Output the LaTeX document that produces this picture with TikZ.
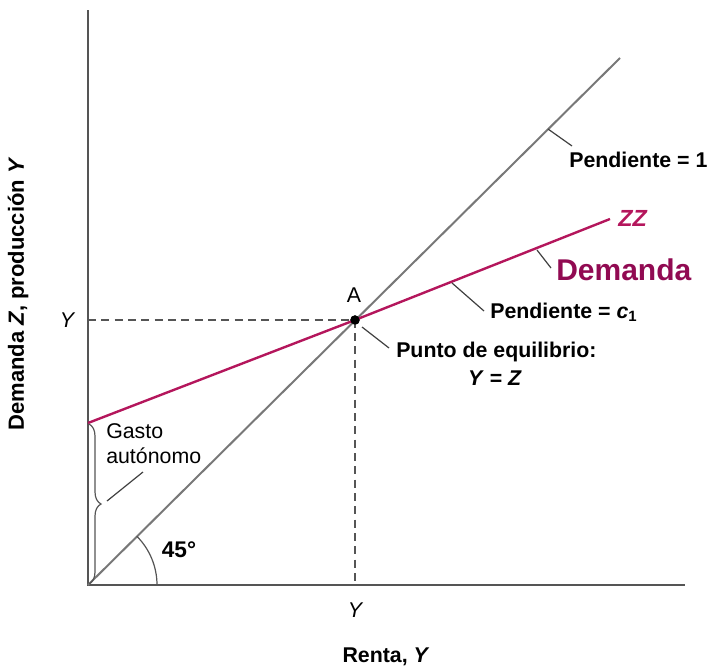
\documentclass[tikz,border=0pt]{standalone}
\usepackage{fontspec}
\setmainfont{Liberation Sans}
\usetikzlibrary{decorations.pathreplacing}
\definecolor{zzcol}{RGB}{180,22,92}
\definecolor{demcol}{RGB}{145,10,82}
\definecolor{axcol}{RGB}{85,85,85}
\definecolor{l45col}{RGB}{120,120,120}
\tikzset{
  axisline/.style={draw=axcol,line width=1.1pt},
  line45/.style={draw=l45col,line width=1.5pt},
  zzline/.style={draw=zzcol,line width=1.8pt},
  guide/.style={draw=axcol,line width=0.9pt,dash pattern=on 6pt off 4pt},
  tick/.style={draw=black!75,line width=0.9pt},
  lbl/.style={font=\fontsize{16}{19}\selectfont\bfseries,inner sep=0pt},
  plain/.style={font=\fontsize{16}{19}\selectfont,inner sep=0pt},
}
\begin{document}
\begin{tikzpicture}[x=0.75pt,y=-0.75pt]
\useasboundingbox (0,0) rectangle (707,668);
\coordinate (O) at (88,585);
\coordinate (ytop) at (88,10);
\coordinate (xend) at (685,585);
\coordinate (L45end) at (620,58);
\coordinate (Z0) at (88,423);
\coordinate (Zend) at (610,219);
\coordinate (Yl) at (88,320);
\coordinate (Yb) at (355,585);
\node[circle,fill=black,inner sep=0pt,minimum size=7pt] (A) at (355,320) {};
% guides
\draw[guide] (Yl) -- (A.center) -- (Yb);
% axes
\draw[axisline] (ytop) -- (O) -- (xend);
% lines
\draw[line45] (O) -- (L45end);
\draw[zzline] (Z0) -- (A.center) -- (Zend);
\node[circle,fill=black,inner sep=0pt,minimum size=7pt] at (A) {};
% 45 arc
\draw[axisline,line width=0.9pt] (157,585) arc[start angle=0,end angle=-45,radius=69];
\node[lbl,font=\fontsize{17}{20}\selectfont\bfseries] (ang) at (179,550) {45°};
% brace
\draw[draw=axcol,line width=0.9pt,decorate,decoration={brace,amplitude=9pt}] (89,424) -- (89,584);
\coordinate (braceTip) at (107,501);
\coordinate (gastoEnd) at (143,472);
\draw[tick] (braceTip) -- (gastoEnd);
\node[plain,anchor=north west,align=left,font=\fontsize{16}{18.75}\selectfont] (gasto) at (106,423) {Gasto\\autónomo};
% ticks and labels
\coordinate (t1a) at (548,129);
\coordinate (t1b) at (572,146);
\draw[tick] (t1a) -- (t1b);
\node[lbl,anchor=west] (p1) at (569,160) {Pendiente = 1};
\coordinate (t2a) at (537,250);
\coordinate (t2b) at (551,268);
\draw[tick] (t2a) -- (t2b);
\node[lbl,anchor=west,text=demcol,font=\fontsize{22.5}{26}\selectfont\bfseries] (dem) at (556,270) {Demanda};
\node[lbl,anchor=west,text=zzcol,font=\fontsize{17.5}{20}\selectfont\bfseries\itshape] (zz) at (618,218) {ZZ};
\coordinate (t3a) at (452,283);
\coordinate (t3b) at (484,311);
\draw[tick] (t3a) -- (t3b);
\node[lbl,anchor=west] (pc) at (490,312) {Pendiente = \textit{c}\textsubscript{1}};
\coordinate (t4a) at (362,327);
\coordinate (t4b) at (389,348);
\draw[tick] (t4a) -- (t4b);
\node[plain] (Alab) at (354,295) {A};
\node[lbl,anchor=west] (eq) at (396,352) {Punto de equilibrio:};
\node[lbl] (yz) at (495,378) {\textit{Y} = \textit{Z}};
% axis labels
\node[plain,font=\fontsize{16}{19}\selectfont\itshape] (Yleft) at (67,320) {Y};
\node[plain,font=\fontsize{16}{19}\selectfont\itshape] (Ybot) at (355,610) {Y};
\node[lbl] (xlab) at (386,657) {Renta, \textit{Y}};
\node[lbl,rotate=90,font=\fontsize{16.5}{19}\selectfont\bfseries] (ylab) at (18,294) {Demanda \textit{Z}, producción \textit{Y}};
\end{tikzpicture}
\end{document}
